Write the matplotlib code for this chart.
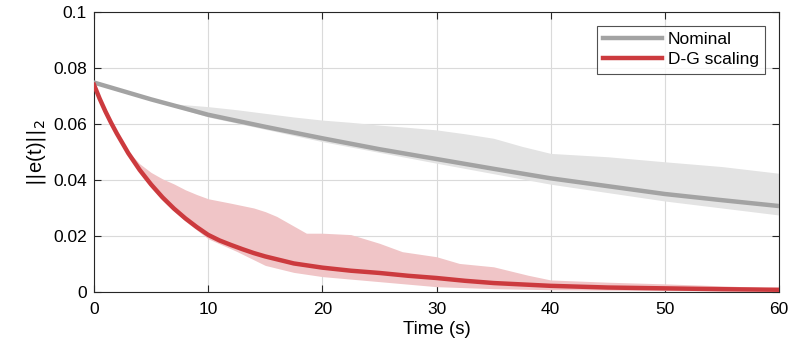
import matplotlib.pyplot as plt
import numpy as np

plt.rcParams['font.family'] = ['Liberation Sans', 'DejaVu Sans']

# ---- data ----
t_nom = [0, 5, 10, 15, 20, 25, 30, 35, 40, 45, 50, 55, 60]
nom_mean = [0.0748, 0.0688, 0.0633, 0.0590, 0.0549, 0.0510, 0.0475, 0.0440, 0.0406, 0.0378, 0.0350, 0.0328, 0.0307]

t_nom_hi = [0, 5, 7, 10, 12.5, 15, 17.5, 20, 22.5, 25, 27.5, 30, 32.5, 35, 37.5, 40, 45, 50, 55, 60]
nom_hi = [0.0748, 0.0692, 0.0672, 0.0662, 0.0651, 0.0638, 0.0625, 0.0614, 0.0606, 0.0596, 0.0588, 0.0579,
          0.0565, 0.0549, 0.0520, 0.0495, 0.0483, 0.0465, 0.0448, 0.0424]
t_nom_lo = [0, 10, 20, 30, 40, 50, 60]
nom_lo = [0.0748, 0.0625, 0.0537, 0.0460, 0.0385, 0.0325, 0.0275]

t_dg = [0, 0.5, 1, 1.5, 2, 3, 4, 5, 6, 7, 8, 9, 10, 11, 12, 13, 14, 15, 17.5, 20, 22.5, 25, 27.5, 30,
        32.5, 35, 37.5, 40, 45, 50, 55, 60]
dg_mean = [0.074, 0.0690, 0.0645, 0.0604, 0.0566, 0.0496, 0.0436, 0.0384, 0.0338, 0.0298, 0.0263, 0.0232,
           0.0204, 0.0184, 0.0168, 0.0153, 0.0139, 0.0127, 0.0102, 0.0087, 0.0076, 0.0068, 0.0058,
           0.0050, 0.0040, 0.0032, 0.0027, 0.0022, 0.0016, 0.0013, 0.0010, 0.0008]

t_dg_hi = [0, 2, 3, 4, 5, 6, 7, 8, 9, 10, 12, 14, 15, 16, 17.3, 18.6, 20, 22.5, 25, 27, 30, 32, 35, 38,
           40, 45, 50, 55, 60]
dg_hi = [0.074, 0.0568, 0.0502, 0.0458, 0.0427, 0.0404, 0.0386, 0.0365, 0.0348, 0.0333, 0.0317, 0.030,
         0.0287, 0.027, 0.024, 0.021, 0.021, 0.0205, 0.0174, 0.0144, 0.0126, 0.0102, 0.009, 0.006, 0.0043,
         0.0035, 0.0029, 0.0022, 0.0014]
t_dg_lo = [0, 2, 4, 6, 8, 10, 12.5, 15, 17.5, 20, 25, 30, 35, 40, 50, 60]
dg_lo = [0.074, 0.0560, 0.0428, 0.0328, 0.0253, 0.0190, 0.0145, 0.0095, 0.007, 0.0055, 0.0037, 0.0019,
         0.0012, 0.0008, 0.0005, 0.0003]

gray = '#A3A3A3'
red = '#CC3A3E'

fig = plt.figure(figsize=(7.93, 3.53), dpi=100)
ax = fig.add_axes([94 / 793, 1 - 292 / 353, 685 / 793, 280 / 353])

# shaded bands on a common grid
tt = np.linspace(0, 60, 601)
ax.fill_between(tt, np.interp(tt, t_nom_lo, nom_lo), np.interp(tt, t_nom_hi, nom_hi),
                color='#E3E3E3', lw=0, zorder=1)
ax.fill_between(tt, np.interp(tt, t_dg_lo, dg_lo), np.interp(tt, t_dg_hi, dg_hi),
                color='#F0C5C7', lw=0, zorder=1)

ax.plot(t_nom, nom_mean, color=gray, lw=3.2, label='Nominal', zorder=3)
ax.plot(t_dg, dg_mean, color=red, lw=3.2, label='D-G scaling', zorder=4)

ax.set_xlim(0, 60)
ax.set_ylim(0, 0.1)
ax.set_xticks(np.arange(0, 61, 10))
ax.set_yticks(np.arange(0, 0.101, 0.02))
ax.set_yticklabels(['0', '0.02', '0.04', '0.06', '0.08', '0.1'])
ax.tick_params(direction='in', labelsize=12.5, length=5, width=0.8, color='#262626',
               top=True, right=True, pad=5)
ax.tick_params(axis='x', pad=7)
ax.grid(True, color='#DADADA', lw=0.8, zorder=0)
ax.set_axisbelow(True)
for s in ax.spines.values():
    s.set_color('#262626')
    s.set_linewidth(0.8)

ax.set_xlabel('Time (s)', fontsize=13.5, labelpad=3)
ax.set_ylabel('$||\\mathregular{e(t)}||_2$', fontsize=14.5, labelpad=4)

leg = ax.legend(loc='upper right', fontsize=12.5, frameon=True, fancybox=False,
                edgecolor='#262626', handlelength=3.4, borderpad=0.35, labelspacing=0.3,
                handletextpad=0.35, borderaxespad=0.8)
leg.get_frame().set_linewidth(0.8)

fig.savefig('out.png', dpi=100)
